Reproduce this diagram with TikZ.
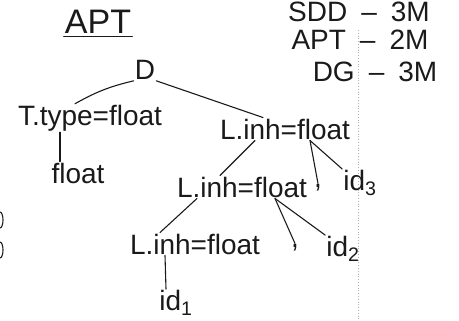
\documentclass[tikz,border=0pt]{standalone}
\usepackage{fontspec}
\setmainfont{Liberation Sans}
\usepackage{xcolor}
\definecolor{inkBlack}{HTML}{1A1A1A}
\definecolor{scanGray}{HTML}{B0B0B0}

\begin{document}
\begin{tikzpicture}[x=1pt, y=-1pt,
    lbl/.style={inner sep=1pt, text=inkBlack, font=\fontsize{28}{30}\selectfont},
    note/.style={inner sep=1pt, text=inkBlack, font=\fontsize{28}{30}\selectfont},
    treeedge/.style={inkBlack, line width=1.1pt, line cap=round}]
  \useasboundingbox (0,0) rectangle (459,321);
  \draw[scanGray, dotted, line width=0.8pt] (358,30) -- (358,321);
  % marks tally
  \node[note] (sdd) at (359,12) {SDD\hspace{14pt}--\hspace{14pt}3M};
  \node[note] (apt) at (360,40) {APT\hspace{14pt}--\hspace{14pt}2M};
  \node[note] (dg) at (375,72) {DG\hspace{14pt}--\hspace{14pt}3M};
  \node[note, font=\fontsize{34}{36}\selectfont] (title) at (98,22) {APT};
  \draw[treeedge] ([yshift=-2]title.south west) -- ([yshift=-2]title.south east);
  % tree
  \node[lbl] (D) at (145,70) {D};
  \node[lbl] (Ttype) at (90,118) {T.type=float};
  \node[lbl] (Tfloat) at (78,173) {float};
  \node[lbl] (Linh1) at (285,129) {L.inh=float};
  \node[lbl] (Linh2) at (242,187) {L.inh=float};
  \node[lbl] (comma1) at (318,188) {,};
  \node[lbl] (id3) at (360,183) {id\textsubscript{3}};
  \node[lbl] (Linh3) at (195,244) {L.inh=float};
  \node[lbl] (comma2) at (295,248) {,};
  \node[lbl] (id2) at (343,249) {id\textsubscript{2}};
  \node[lbl] (id1) at (176,303) {id\textsubscript{1}};
  \draw[treeedge] (D.south west) to[bend right=8] ([xshift=-15]Ttype.north);
  \draw[treeedge] (D.south east) -- ([xshift=-22]Linh1.north);
  \draw[treeedge] ([xshift=-30]Ttype.south) -- ([xshift=-18]Tfloat.north);
  \draw[treeedge] ([xshift=-30]Linh1.south) -- ([xshift=-22]Linh2.north);
  \draw[treeedge] ([xshift=25]Linh1.south) -- (comma1.north);
  \draw[treeedge] ([xshift=25]Linh1.south) -- (id3.north west);
  \draw[treeedge] ([xshift=-45]Linh2.south) -- ([xshift=-35]Linh3.north);
  \draw[treeedge] ([xshift=33]Linh2.south) -- (comma2.north);
  \draw[treeedge] ([xshift=33]Linh2.south) -- (id2.north west);
  \draw[treeedge] ([xshift=-30]Linh3.south) -- ([xshift=-10]id1.north);
  % scraps at the left edge
  \draw[treeedge] (0,228) arc[start angle=90, end angle=-90, x radius=3, y radius=8];
  \draw[treeedge] (0,258) arc[start angle=90, end angle=-90, x radius=3, y radius=8];
\end{tikzpicture}
\end{document}
